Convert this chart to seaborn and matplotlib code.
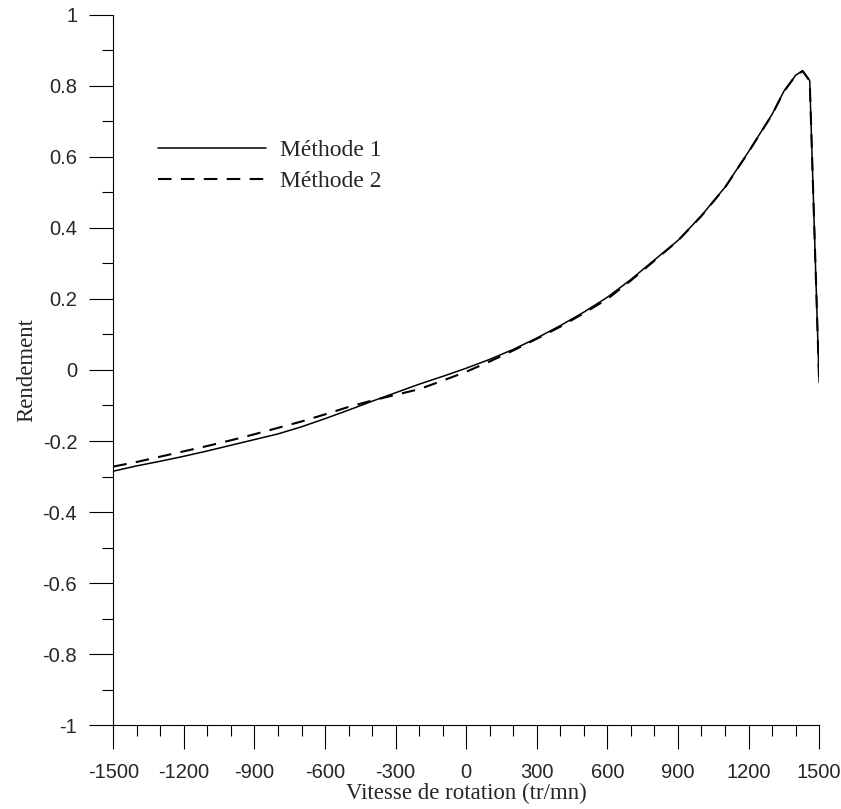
import matplotlib
matplotlib.use("Agg")
import matplotlib.pyplot as plt
from matplotlib.ticker import MultipleLocator
import seaborn as sns
import pandas as pd

# Méthode 1 (trait plein)
vitesse_m1 = [-1500, -1400, -1300, -1200, -1100, -1000, -900, -800, -700, -600,
              -500, -400, -300, -200, -100, 0, 100, 200, 300, 400, 500, 600,
              700, 800, 900, 1000, 1100, 1200, 1300, 1350, 1400, 1430, 1460, 1500]
rendement_m1 = [-0.285, -0.270, -0.257, -0.243, -0.228, -0.212, -0.196, -0.180,
                -0.160, -0.137, -0.113, -0.088, -0.064, -0.040, -0.018, 0.005,
                0.030, 0.058, 0.090, 0.125, 0.163, 0.205, 0.255, 0.310, 0.365,
                0.435, 0.515, 0.615, 0.720, 0.785, 0.830, 0.843, 0.815, -0.035]

# Méthode 2 (tirets)
vitesse_m2 = vitesse_m1
rendement_m2 = [-0.272, -0.259, -0.244, -0.229, -0.214, -0.198, -0.181, -0.163,
                -0.145, -0.125, -0.104, -0.086, -0.070, -0.054, -0.030, -0.005,
                0.024, 0.055, 0.088, 0.122, 0.160, 0.200, 0.252, 0.308, 0.364,
                0.434, 0.514, 0.614, 0.719, 0.784, 0.829, 0.842, 0.814, -0.035]

df1 = pd.DataFrame({"vitesse": vitesse_m1, "rendement": rendement_m1})
df2 = pd.DataFrame({"vitesse": vitesse_m2, "rendement": rendement_m2})

sns.set_style("ticks")
plt.rcParams["font.family"] = ["Liberation Sans", "DejaVu Sans"]

fig = plt.figure(figsize=(8.41, 8.09), dpi=100)
ax = fig.add_axes([0.1347, 0.1038, 0.8393, 0.8777])

sns.lineplot(data=df1, x="vitesse", y="rendement", ax=ax, color="black",
             linewidth=1.1, label="Méthode 1", sort=False)
sns.lineplot(data=df2, x="vitesse", y="rendement", ax=ax, color="black",
             linewidth=1.5, label="Méthode 2", sort=False)
ax.lines[1].set_dashes((6.5, 4.5))

ax.set_xlim(-1500, 1500)
ax.set_ylim(-1, 1)
ax.xaxis.set_minor_locator(MultipleLocator(100))
ax.yaxis.set_minor_locator(MultipleLocator(0.1))
xt = list(range(-1500, 1501, 300))
ax.set_xticks(xt)
ax.set_xticklabels([str(v) for v in xt])
yt = [-1, -0.8, -0.6, -0.4, -0.2, 0, 0.2, 0.4, 0.6, 0.8, 1]
ax.set_yticks(yt)
ax.set_yticklabels(["%g" % v for v in yt])

ax.tick_params(which="major", direction="out", length=17, width=0.8,
               labelsize=14.5, color="black")
ax.tick_params(axis="x", which="major", pad=10)
ax.tick_params(axis="y", which="major", pad=9)
ax.tick_params(which="minor", direction="out", length=8, width=0.8, color="black")
for s in ["top", "right"]:
    ax.spines[s].set_visible(False)
for s in ["left", "bottom"]:
    ax.spines[s].set_linewidth(0.8)
    ax.spines[s].set_color("black")

serif = ["Liberation Serif", "DejaVu Serif"]
ax.set_xlabel("Vitesse de rotation (tr/mn)", family=serif, fontsize=16.5, labelpad=1)
ax.set_ylabel("Rendement", family=serif, fontsize=16.5, labelpad=4)

leg = ax.legend(loc="upper left", bbox_to_anchor=(0.046, 0.841), frameon=False,
                handlelength=4.6, handletextpad=0.6, labelspacing=0.4,
                borderpad=0, prop={"family": serif, "size": 17})

fig.savefig("out.png", dpi=100)
